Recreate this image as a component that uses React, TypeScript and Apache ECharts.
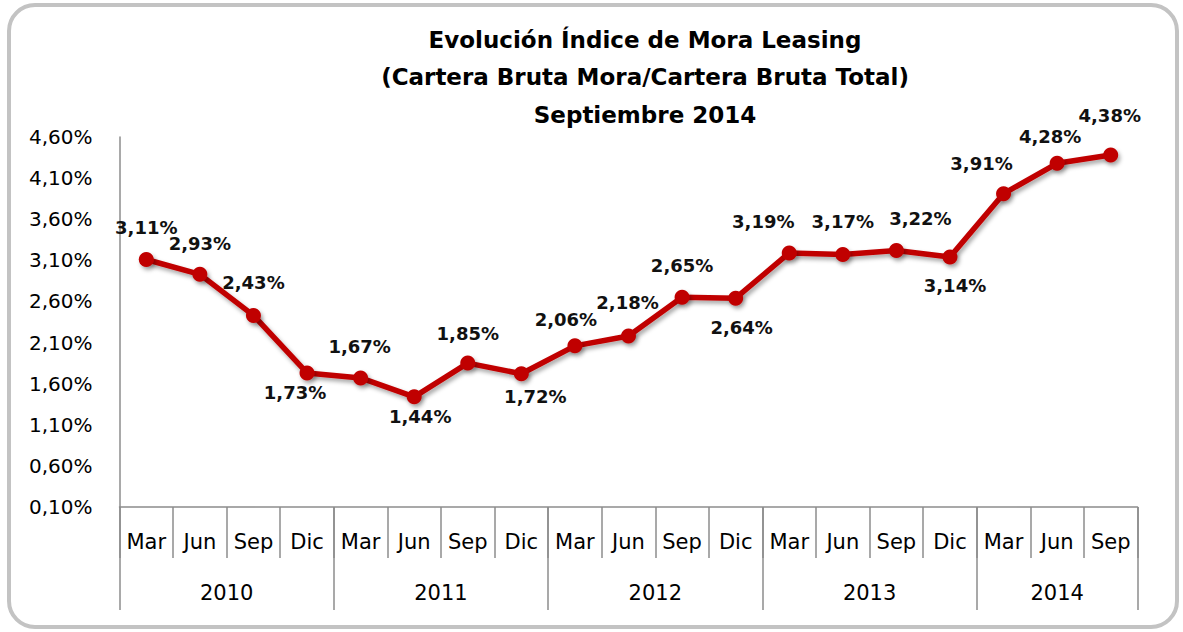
import React, { useEffect, useRef } from "react";
import * as echarts from "echarts";

const months = ["Mar", "Jun", "Sep", "Dic", "Mar", "Jun", "Sep", "Dic", "Mar", "Jun", "Sep", "Dic", "Mar", "Jun", "Sep", "Dic", "Mar", "Jun", "Sep"];
const years = ["2010", "2011", "2012", "2013", "2014"];
const monthsPerYear = [4, 4, 4, 4, 3];
const moraValues = [3.11, 2.93, 2.43, 1.73, 1.67, 1.44, 1.85, 1.72, 2.06, 2.18, 2.65, 2.64, 3.19, 3.17, 3.22, 3.14, 3.91, 4.28, 4.38];
const yTickStart = 0.1;
const yTickEnd = 4.6;
const yTickStep = 0.5;

// label placement (style): offset of label centre relative to the point
const labelOffsets: [number, number][] = [
  [0, -32], [0, -31], [0, -33], [-12, 20], [-1, -31], [6, 20], [0, -30], [14, 23],
  [-9, -26], [-1, -33], [0, -32], [6, 29], [-26, -31], [0, -33], [24, -32], [5, 28],
  [-22, -30], [-7, -27], [-1, -40],
];

const FONT = "'DejaVu Sans', sans-serif";

function fmt(v: number) {
  return v.toFixed(2).replace(".", ",") + "%";
}

export default function App() {
  const ref = useRef<HTMLDivElement>(null);
  useEffect(() => {
    if (!ref.current) return;
    const chart = echarts.init(ref.current, undefined, { renderer: "svg" });

    // half-step axis for the year level
    const total = months.length;
    const halfData: string[] = new Array(total * 2 + 1).fill("");
    const boundaryIdx = new Set<number>();
    const labelIdx = new Set<number>();
    let start = 0;
    boundaryIdx.add(0);
    years.forEach((y, i) => {
      const n = monthsPerYear[i];
      const centre = start * 2 + n;
      halfData[centre] = y;
      labelIdx.add(centre);
      start += n;
      boundaryIdx.add(start * 2);
    });

    const lineShadow = {
      shadowColor: "rgba(0,0,0,0.35)",
      shadowBlur: 4,
      shadowOffsetX: 2,
      shadowOffsetY: 3,
    };

    chart.setOption({
      animation: false,
      backgroundColor: "#ffffff",
      title: {
        text: "Evolución Índice de Mora Leasing\n(Cartera Bruta Mora/Cartera Bruta Total)\nSeptiembre 2014",
        left: 640,
        top: 16,
        textAlign: "center",
        textStyle: {
          fontFamily: FONT,
          fontWeight: "bold",
          fontSize: 23,
          lineHeight: 37.5,
          color: "#000",
        },
      },
      graphic: [
        {
          type: "rect",
          shape: { x: 9, y: 5, width: 1168, height: 622, r: 26 },
          style: { fill: "none", stroke: "#c3c3c3", lineWidth: 4 },
          silent: true,
        },
      ],
      grid: { left: 119.5, right: 45.5, top: 137, bottom: 125, containLabel: false },
      xAxis: [
        {
          type: "category",
          data: months,
          boundaryGap: true,
          position: "bottom",
          axisLine: { show: true, lineStyle: { color: "#8c8c8c", width: 1.5 } },
          axisTick: { show: true, interval: 0, length: 51, lineStyle: { color: "#8c8c8c", width: 1.5 } },
          axisLabel: { interval: 0, margin: 24, fontSize: 21, fontFamily: FONT, color: "#000" },
          splitLine: { show: false },
        },
        {
          type: "category",
          data: halfData,
          boundaryGap: false,
          position: "bottom",
          axisLine: { show: false },
          axisTick: {
            show: true,
            length: 103,
            interval: (i: number) => boundaryIdx.has(i),
            lineStyle: { color: "#8c8c8c", width: 1.5 },
          },
          axisLabel: {
            interval: (i: number) => labelIdx.has(i),
            margin: 75,
            fontSize: 21,
            fontFamily: FONT,
            color: "#000",
          },
          splitLine: { show: false },
        },
      ],
      yAxis: {
        type: "value",
        min: yTickStart,
        max: yTickEnd,
        interval: yTickStep,
        axisLine: { show: true, lineStyle: { color: "#8c8c8c", width: 1.5 } },
        axisTick: { show: false },
        splitLine: { show: false },
        axisLabel: {
          margin: 27,
          fontSize: 20,
          fontFamily: FONT,
          color: "#000",
          formatter: (v: number) => fmt(v),
        },
      },
      series: [
        {
          type: "line",
          xAxisIndex: 0,
          data: moraValues.map((v, i) => ({
            value: v,
            label: { offset: labelOffsets[i] },
          })),
          symbol: "circle",
          symbolSize: 15,
          color: "#c00000",
          lineStyle: { color: "#c00000", width: 5.5, ...lineShadow },
          itemStyle: { color: "#c00000", ...lineShadow },
          label: {
            show: true,
            position: "inside",
            fontFamily: FONT,
            fontWeight: "bold",
            fontSize: 18,
            color: "#111",
            formatter: (p: any) => fmt(p.value),
          },
          z: 3,
        },
      ],
    });
    return () => chart.dispose();
  }, []);
  return <div ref={ref} style={{ position: "fixed", left: 0, top: 0, width: 1183, height: 632 }} />;
}
